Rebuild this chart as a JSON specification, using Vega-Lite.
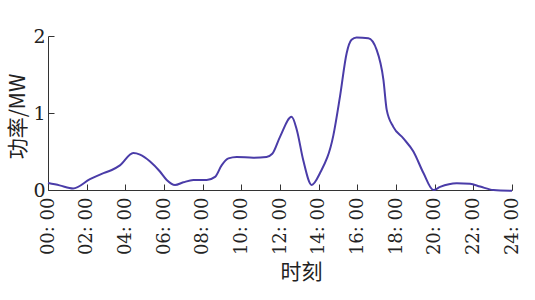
{
  "$schema": "https://vega.github.io/schema/vega-lite/v6.json",
  "width": 464,
  "height": 154,
  "autosize": {"type": "none"},
  "padding": {"left": 48, "top": 36, "right": 23, "bottom": 110},
  "background": "white",
  "config": {"view": {"stroke": null}},
  "data": {"values": [
    {"h": 0.0, "p": 0.09},
    {"h": 0.6, "p": 0.06},
    {"h": 1.3, "p": 0.02},
    {"h": 2.17, "p": 0.14},
    {"h": 2.78, "p": 0.21},
    {"h": 3.3, "p": 0.26},
    {"h": 3.72, "p": 0.32},
    {"h": 4.41, "p": 0.48},
    {"h": 4.76, "p": 0.46},
    {"h": 5.28, "p": 0.37},
    {"h": 5.79, "p": 0.24},
    {"h": 6.14, "p": 0.13},
    {"h": 6.57, "p": 0.065},
    {"h": 7.0, "p": 0.1},
    {"h": 7.52, "p": 0.13},
    {"h": 8.21, "p": 0.13},
    {"h": 8.64, "p": 0.17},
    {"h": 8.98, "p": 0.32},
    {"h": 9.33, "p": 0.41},
    {"h": 9.76, "p": 0.43},
    {"h": 10.62, "p": 0.42},
    {"h": 11.3, "p": 0.43},
    {"h": 11.6, "p": 0.47},
    {"h": 12.0, "p": 0.69},
    {"h": 12.6, "p": 0.95},
    {"h": 12.87, "p": 0.78},
    {"h": 13.2, "p": 0.39},
    {"h": 13.64, "p": 0.065},
    {"h": 14.07, "p": 0.22},
    {"h": 14.76, "p": 0.71},
    {"h": 15.1, "p": 1.21},
    {"h": 15.45, "p": 1.78},
    {"h": 15.7, "p": 1.95},
    {"h": 15.96, "p": 1.98},
    {"h": 16.57, "p": 1.97},
    {"h": 17.0, "p": 1.82},
    {"h": 17.35, "p": 1.43},
    {"h": 17.52, "p": 1.04},
    {"h": 17.86, "p": 0.82},
    {"h": 18.38, "p": 0.67},
    {"h": 18.9, "p": 0.5},
    {"h": 19.42, "p": 0.22},
    {"h": 19.93, "p": 0.0},
    {"h": 20.28, "p": 0.04},
    {"h": 21.14, "p": 0.087},
    {"h": 21.83, "p": 0.08},
    {"h": 22.35, "p": 0.045},
    {"h": 23.04, "p": 0.0},
    {"h": 24.0, "p": -0.01}
  ]},
  "mark": {"type": "line", "interpolate": "monotone", "color": "#4a3ca8", "strokeWidth": 2},
  "encoding": {
    "x": {
      "field": "h", "type": "quantitative",
      "scale": {"domain": [0, 24], "nice": false, "zero": false},
      "axis": {
        "values": [0, 2, 4, 6, 8, 10, 12, 14, 16, 18, 20, 22, 24],
        "labelExpr": "(datum.value < 10 ? '0' : '') + datum.value + ': 00'",
        "labelAngle": -90, "labelAlign": "right", "labelBaseline": "middle",
        "labelFont": "DejaVu Serif", "labelFontSize": 18, "labelColor": "#222",
        "labelPadding": 13, "labelOverlap": false,
        "grid": false, "tickSize": -6, "tickColor": "#333", "domainColor": "#333",
        "title": "时刻", "titleFont": "Noto Sans CJK SC", "titleFontSize": 21,
        "titleFontWeight": "normal", "titleColor": "#222",
        "titleX": 253, "titleY": 82, "titleBaseline": "middle"
      }
    },
    "y": {
      "field": "p", "type": "quantitative",
      "scale": {"domain": [0, 2], "nice": false},
      "axis": {
        "values": [0, 1, 2],
        "labelExpr": "'' + round(datum.value)",
        "labelFont": "DejaVu Serif", "labelFontSize": 19, "labelColor": "#222",
        "labelPadding": 9, "labelOverlap": false,
        "grid": false, "tickSize": -6, "tickColor": "#333", "domainColor": "#333",
        "title": "功率/MW", "titleFont": "Noto Sans CJK SC", "titleFontSize": 21,
        "titleFontWeight": "normal", "titleColor": "#222",
        "titleX": -30, "titleY": 80, "titleBaseline": "middle", "titleAngle": -90
      }
    }
  }
}
